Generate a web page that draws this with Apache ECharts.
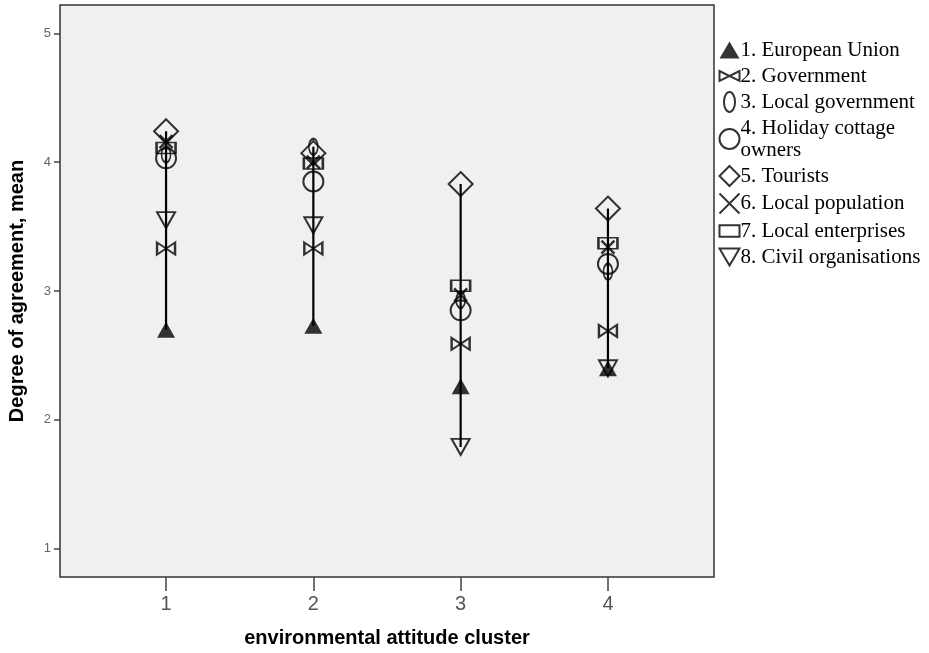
<!DOCTYPE html>
<html>
<head>
<meta charset="utf-8">
<script src="https://cdn.jsdelivr.net/npm/echarts@6/dist/echarts.min.js"></script>
<style>html,body{margin:0;padding:0;background:#fff}#c{width:929px;height:653px}</style>
</head>
<body>
<div id="c"></div>
<script>
const clusters = [1, 2, 3, 4];
const xTicks = [1, 2, 3, 4];
const yTicks = [1, 2, 3, 4, 5];
const seriesNames = [
  '1. European Union',
  '2. Government',
  '3. Local government',
  '4. Holiday cottage\nowners',
  '5. Tourists',
  '6. Local population',
  '7. Local enterprises',
  '8. Civil organisations'
];
const europeanUnion   = [2.70, 2.73, 2.26, 2.40];
const government      = [3.33, 3.33, 2.59, 2.69];
const localGovernment = [4.06, 4.12, 2.93, 3.15];
const holidayCottage  = [4.03, 3.85, 2.85, 3.21];
const tourists        = [4.24, 4.07, 3.83, 3.64];
const localPopulation = [4.16, 4.00, 2.97, 3.34];
const localEnterprise = [4.11, 3.99, 3.04, 3.37];
const civilOrgs       = [3.55, 3.51, 1.79, 2.40];

const allValues = [europeanUnion, government, localGovernment, holidayCottage,
  tourists, localPopulation, localEnterprise, civilOrgs];

const hollow = {color: 'rgba(0,0,0,0)', borderColor: '#000', borderWidth: 2};
const styles = [
  {symbol: 'path://M10,0L20,17L0,17Z', symbolSize: [18, 16], itemStyle: {color: '#000', borderColor: '#000', borderWidth: 0}},
  {symbol: 'path://M0,0L10,5L0,10ZM20,0L10,5L20,10Z', symbolSize: [18, 12], itemStyle: hollow},
  {symbol: 'path://M5,0A5,9 0 1,1 5,18A5,9 0 1,1 5,0Z', symbolSize: [9, 16], itemStyle: hollow},
  {symbol: 'circle', symbolSize: 20, itemStyle: hollow},
  {symbol: 'path://M10,0L20,10L10,20L0,10Z', symbolSize: 24, itemStyle: hollow},
  {symbol: 'path://M0,0L10,10M10,0L0,10', symbolSize: 13, itemStyle: {color: 'none', borderColor: '#000', borderWidth: 2.5}},
  {symbol: 'path://M0,0H19V11H0Z', symbolSize: [19, 11], itemStyle: hollow},
  {symbol: 'path://M0,0L20,0L10,17Z', symbolSize: [18, 16], itemStyle: hollow}
];

const rangeData = clusters.map((c, i) => {
  const vals = allValues.map(a => a[i]);
  return [c, Math.min(...vals), Math.max(...vals)];
});

const series = [{
  type: 'custom',
  name: 'range',
  z: 1,
  silent: true,
  renderItem: function (params, api) {
    const p1 = api.coord([api.value(0), api.value(1)]);
    const p2 = api.coord([api.value(0), api.value(2)]);
    return {type: 'line', shape: {x1: p1[0], y1: p1[1], x2: p2[0], y2: p2[1]},
      style: {stroke: '#000', lineWidth: 2.2}};
  },
  data: rangeData
}];
seriesNames.forEach((n, k) => {
  series.push(Object.assign({
    type: 'scatter',
    name: n,
    z: 3,
    symbolKeepAspect: false,
    data: clusters.map((c, i) => [c, allValues[k][i]])
  }, styles[k]));
});

const chart = echarts.init(document.getElementById('c'));
chart.setOption({
  animation: false,
  backgroundColor: '#fff',
  grid: {left: 60, top: 5, width: 654, height: 572, show: true, containLabel: false,
    outerBoundsMode: 'none',
    backgroundColor: '#f0f0f0', borderColor: '#333', borderWidth: 1.5},
  legend: {
    orient: 'vertical', left: 717, top: 39, padding: 0,
    itemWidth: 20, itemHeight: 20, itemGap: 4,
    symbolKeepAspect: true,
    data: seriesNames,
    textStyle: {fontFamily: 'Liberation Serif', fontSize: 21, color: '#000', padding: [0, 0, 0, -4], lineHeight: 22}
  },
  xAxis: {
    type: 'value', min: 0.28, max: 4.72,
    name: 'environmental attitude cluster', nameLocation: 'middle', nameGap: 51,
    nameTextStyle: {fontFamily: 'Liberation Sans', fontWeight: 'bold', fontSize: 20, color: '#000'},
    axisLine: {show: false},
    splitLine: {show: false},
    axisTick: {show: true, length: 14, inside: false, customValues: xTicks, lineStyle: {color: '#444', width: 1.5}},
    axisLabel: {customValues: xTicks, margin: 17, fontFamily: 'Liberation Sans Narrow, Liberation Sans', fontSize: 20, color: '#555'}
  },
  yAxis: {
    type: 'value', min: 0.78, max: 5.22,
    name: 'Degree of agreement, mean', nameLocation: 'middle', nameGap: 33,
    nameTextStyle: {fontFamily: 'Liberation Sans', fontWeight: 'bold', fontSize: 20, color: '#000'},
    axisLine: {show: false},
    splitLine: {show: false},
    axisTick: {show: true, length: 6, customValues: yTicks, lineStyle: {color: '#444', width: 1.5}},
    axisLabel: {customValues: yTicks, margin: 9, fontFamily: 'Liberation Sans', fontSize: 13, color: '#666'}
  },
  series: series
});
</script>
</body>
</html>
